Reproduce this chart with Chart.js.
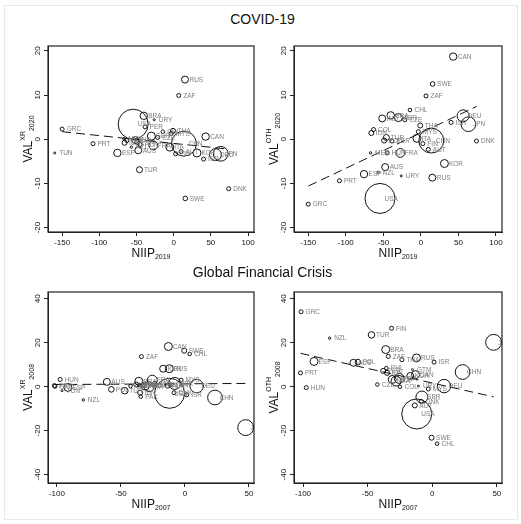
<!DOCTYPE html>
<html>
<head>
<meta charset="utf-8">
<title>NIIP and valuation effects</title>
<script src="https://cdn.jsdelivr.net/npm/chart.js@4.4.1/dist/chart.umd.min.js"></script>
<style>
  body { margin: 0; background: #fff; font-family: "Liberation Sans", Arial, sans-serif; }
  #page { position: relative; width: 521px; height: 524px; overflow: hidden; }
  #outline { position: absolute; left: 4px; top: 5px; width: 512px; height: 513px; border: 1px solid #e3ecec; }
  canvas { position: absolute; }
  .heading { position: absolute; left: 2px; width: 521px; text-align: center; font-size: 14px; line-height: 16px; color: #111; }
</style>
</head>
<body>
<div id="page">
  <div id="outline"></div>
  <canvas id="covidXR" width="270" height="232" style="left:0;top:30px"></canvas>
  <canvas id="covidOTH" width="256" height="232" style="left:262px;top:30px"></canvas>
  <canvas id="gfcXR" width="270" height="244" style="left:0;top:276px"></canvas>
  <canvas id="gfcOTH" width="256" height="244" style="left:262px;top:276px"></canvas>
  <div class="heading" style="top:11px">COVID-19</div>
  <div class="heading" style="top:264px">Global Financial Crisis</div>
</div>
<script>
// COVID-19: NIIP 2019 against valuation effects in 2020
const covidCountries = ['GRC','TUN','PRT','ESP','MEX','IDN','COL','NZL','USA','IND','POL','AUS','TUR','HUN','BRA','PER','GBR','FRA','URY','CZE','CHL','ITA','MYS','THA','FIN','ZAF','AUT','CHN','RUS','SWE','KOR','ISR','CAN','DEU','JPN','DNK'];
const niip2019   = [-150,-160,-108.5,-75.7,-67,-66,-63,-57,-54.5,-51.5,-49,-47.6,-46,-45,-40.2,-38.5,-30,-27.4,-26.2,-21.5,-14.6,-5.2,-3.4,-0.9,2.6,6.8,9.9,13.8,15.2,15.6,31.3,40.2,43,56.2,63.3,74];
const valXR2020  = [2.3,-3.1,-1.0,-3.1,0.1,-0.8,-0.3,-1.8,3.4,-0.2,-0.6,-2.5,-6.9,-1.2,5.3,2.8,0.7,-1.4,4.4,0.4,1.7,-1.8,1.3,1.9,-3.3,9.9,-2.8,-1.0,13.5,-13.4,-3.1,-4.5,0.6,-3.5,-3.3,-11.2];
const valOTH2020 = [-14.7,null,-9.4,-7.9,-3.1,1.4,2.2,-7.5,-13.4,4.7,-0.3,-6.3,0.4,-3.1,5.4,-0.4,4.9,-3.1,-8.3,4.4,6.6,0.2,1.7,3.1,-1.0,9.8,-2.3,-0.3,-8.7,12.5,-5.5,3.8,18.7,5.3,3.4,-0.4];
const size2020   = [1.8,0.45,1.8,6.1,0.64,2.8,1.8,0.64,100,5.4,2.8,5.4,4,1.8,6.1,1.8,7.1,8.6,0.45,1.8,1.4,7.1,1.8,2.8,1.8,1.8,1.8,69,5.4,2.4,7.1,1.8,6.1,16,24,1.8];

// Global Financial Crisis: NIIP 2007 against valuation effects in 2008
const gfcCountries = ['GRC','PRT','HUN','TUN','ESP','NZL','AUS','POL','TUR','CZE','PER','BRA','IDN','PAK','ZAF','PHL','MEX','FIN','ITA','FRA','THA','COL','KOR','GTM','AUT','RUS','USA','URY','DNK','GBR','MYS','SWE','ISR','CHL','CAN','DEU','CHN','JPN'];
const niip2007   = [-101.5,-102,-97.5,-96,-91.5,-79.4,-61,-57.5,-47,-42.5,-38,-36,-35,-34.5,-34,-35.5,-31,-31.5,-28,-25.5,-23.5,-25,-17,-15.3,-13.5,-12.2,-12,-10.7,-8.5,-8,-3,-0.5,1.4,3.7,-12.9,9.2,23.5,47.5];
const valXR2008  = [0.2,0.5,3.3,-1.8,-0.3,-6,2.2,-1.2,-1.8,0.3,1.0,2.5,-2.7,-4.5,13.7,0.8,0.3,0.5,0.0,3.0,1.5,0.8,8.2,1.0,0.5,8.2,-3,0.5,-2.7,1.5,3.0,16.4,-3.7,14.9,18.3,0.3,-4.9,-18.6];
const valOTH2008 = [34.1,6.3,-0.4,null,11.5,22.1,10.9,11.2,23.6,1.0,7.2,16.9,6.3,null,13.8,8.5,3.3,26.6,2.6,3.8,12.3,0.0,4.9,7.8,-8.5,13.1,-12.4,0.3,-6.7,-4.7,-1.0,-23.2,11.2,-25.9,5.5,0.3,6.7,20.2];
const size2008   = [1.8,1.8,1.8,0.45,7.1,0.64,5.4,3.5,4.8,1.4,2.8,7.1,2.8,1.4,1.8,1.4,7.1,1.8,11,11,1.8,1.4,5.4,0.45,2.8,7.1,100,0.45,1.8,16,1.8,2.8,1.8,1.4,7.1,20,24,28];

// fitted lines, end points
const covidFitX  = [-150, 74];
const fitXR2020  = [1.7, -2.25];
const fitOTH2020 = [-10.6, 7.4];
const gfcFitX    = [-102, 47.5];
const fitXR2008  = [1.0, 1.5];
const fitOTH2008 = [15.2, -4.6];

// axis ticks
const covidXTicks = [-150, -100, -50, 0, 50, 100];
const covidYTicks = [-20, -10, 0, 10, 20];
const gfcXTicks = [-100, -50, 0, 50];
const gfcYTicks = [-40, -20, 0, 20, 40];

const FONT = '"Liberation Sans", Arial, sans-serif';

// country codes next to each marker
const pointLabels = {
  id: 'pointLabels',
  afterDatasetsDraw(chart) {
    const ctx = chart.ctx, area = chart.chartArea;
    const pts = chart.data.datasets[1].data;
    const meta = chart.getDatasetMeta(1);
    ctx.save();
    ctx.beginPath();
    ctx.rect(area.left, area.top, area.right - area.left, area.bottom - area.top);
    ctx.clip();
    ctx.font = '6.5px ' + FONT;
    ctx.fillStyle = '#7d7d7d';
    ctx.textBaseline = 'middle';
    meta.data.forEach(function(el, i) {
      ctx.fillText(pts[i].name, el.x + 4.5, el.y + 0.5);
    });
    ctx.restore();
  }
};

// box round the plot region
const plotFrame = {
  id: 'plotFrame',
  afterDraw(chart) {
    const a = chart.chartArea, ctx = chart.ctx;
    ctx.save();
    ctx.strokeStyle = '#222';
    ctx.lineWidth = 1.2;
    ctx.strokeRect(a.left, a.top, a.right - a.left, a.bottom - a.top);
    ctx.restore();
  }
};

// draws a title made of pieces: [text, size, baseline shift]
function drawPieces(ctx, pieces) {
  let total = 0;
  pieces.forEach(function(p) { ctx.font = p[1] + 'px ' + FONT; total += ctx.measureText(p[0]).width; });
  let x = -total / 2;
  pieces.forEach(function(p) {
    ctx.font = p[1] + 'px ' + FONT;
    ctx.fillText(p[0], x, p[2]);
    x += ctx.measureText(p[0]).width;
  });
}

const axisTitles = {
  id: 'axisTitles',
  afterDraw(chart, args, opts) {
    const a = chart.chartArea, ctx = chart.ctx;
    ctx.save();
    ctx.fillStyle = '#111';
    ctx.textBaseline = 'alphabetic';
    ctx.translate((a.left + a.right) / 2, a.bottom + 20);
    drawPieces(ctx, [[opts.x[0], 12, 4.5], [opts.x[1], 7, 7]]);
    ctx.restore();
    ctx.save();
    ctx.fillStyle = '#111';
    ctx.translate(a.left - 21, (a.top + a.bottom) / 2);
    ctx.rotate(-Math.PI / 2);
    drawPieces(ctx, [[opts.y[0], 12, 4.5], [opts.y[1], 7, -2.5], [opts.y[2], 7, 7]]);
    ctx.restore();
  }
};

function makePanel(id, names, xs, ys, sizes, fitX, fitY, xr, yr, xTicks, yTicks, xTitle, yTitle, yWidth, xHeight, padRight) {
  const points = [];
  names.forEach(function(n, i) {
    if (ys[i] === null) return;
    points.push({ x: xs[i], y: ys[i], r: 1.5 * Math.sqrt(sizes[i]), name: n });
  });
  const axisGrid = { drawOnChartArea: false, drawTicks: true, tickLength: 4, color: '#222', tickColor: '#222' };
  new Chart(document.getElementById(id), {
    type: 'bubble',
    data: {
      datasets: [
        {
          type: 'line',
          data: [{ x: fitX[0], y: fitY[0] }, { x: fitX[1], y: fitY[1] }],
          borderColor: '#111',
          borderWidth: 1,
          borderDash: [9, 5],
          pointRadius: 0,
          fill: false
        },
        {
          data: points,
          backgroundColor: 'rgba(0,0,0,0)',
          borderColor: '#111',
          borderWidth: 1
        }
      ]
    },
    options: {
      responsive: false,
      animation: false,
      events: [],
      layout: { padding: { left: 0, top: 13, right: padRight, bottom: 0 } },
      plugins: {
        legend: { display: false },
        tooltip: { enabled: false },
        axisTitles: { x: xTitle, y: yTitle }
      },
      scales: {
        x: {
          type: 'linear', min: xr[0], max: xr[1],
          afterBuildTicks: function(s) { s.ticks = xTicks.map(function(v) { return { value: v }; }); },
          afterFit: function(s) { s.height = xHeight; },
          grid: axisGrid,
          border: { color: '#222', width: 1 },
          ticks: { font: { size: 8, family: FONT }, color: '#111', padding: 2, maxRotation: 0 }
        },
        y: {
          type: 'linear', min: yr[0], max: yr[1],
          afterBuildTicks: function(s) { s.ticks = yTicks.map(function(v) { return { value: v }; }); },
          afterFit: function(s) { s.width = yWidth; },
          grid: axisGrid,
          border: { color: '#222', width: 1 },
          ticks: { font: { size: 8, family: FONT }, color: '#111', padding: 0, minRotation: 90, maxRotation: 90, crossAlign: 'center' }
        }
      }
    },
    plugins: [pointLabels, plotFrame, axisTitles]
  });
}

makePanel('covidXR', covidCountries, niip2019, valXR2020, size2020, covidFitX, fitXR2020,
  [-169, 108], [-21, 21.1], covidXTicks, covidYTicks, ['NIIP', '2019'], ['VAL', 'XR', '2020'], 48, 30, 9);
makePanel('covidOTH', covidCountries, niip2019, valOTH2020, size2020, covidFitX, fitOTH2020,
  [-169, 108], [-21, 21.1], covidXTicks, covidYTicks, ['NIIP', '2019'], ['VAL', 'OTH', '2020'], 32, 30, 10);
makePanel('gfcXR', gfcCountries, niip2007, valXR2008, size2008, gfcFitX, fitXR2008,
  [-107, 54], [-43.8, 43.1], gfcXTicks, gfcYTicks, ['NIIP', '2007'], ['VAL', 'XR', '2008'], 48, 37, 9);
makePanel('gfcOTH', gfcCountries, niip2007, valOTH2008, size2008, gfcFitX, fitOTH2008,
  [-107, 54], [-43.8, 43.1], gfcXTicks, gfcYTicks, ['NIIP', '2007'], ['VAL', 'OTH', '2008'], 32, 37, 10);
</script>
</body>
</html>
